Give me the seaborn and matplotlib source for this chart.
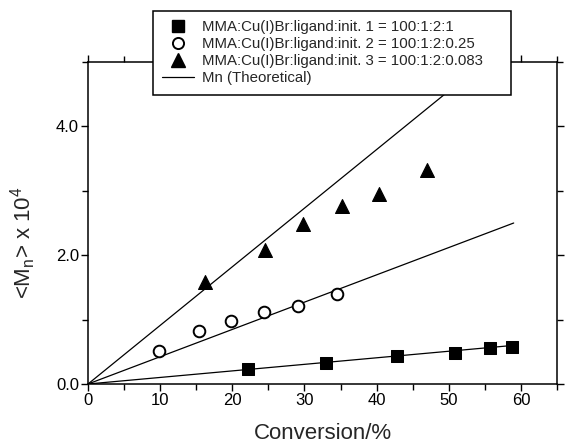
import numpy as np
import pandas as pd
import matplotlib
matplotlib.use("Agg")
import matplotlib.pyplot as plt
from matplotlib.ticker import MultipleLocator, FormatStrFormatter
from matplotlib.lines import Line2D
import seaborn as sns

# Data (conversion in %, <Mn> in units of 1e4)
sq_conv = [22.2, 33.0, 42.8, 50.8, 55.7, 58.8]
sq_mn = [0.23, 0.33, 0.43, 0.48, 0.56, 0.58]

circ_conv = [9.8, 15.4, 19.8, 24.4, 29.1, 34.5]
circ_mn = [0.51, 0.82, 0.98, 1.12, 1.21, 1.40]

tri_conv = [16.2, 24.5, 29.8, 35.2, 40.3, 47.0]
tri_mn = [1.58, 2.08, 2.48, 2.76, 2.95, 3.32]

# theoretical Mn lines (start / end points)
theo_conv = [0, 59]
theo_1 = [0, 0.60]
theo_2 = [0, 2.50]
theo_3 = [0, 5.37]

labels = [
    "MMA:Cu(I)Br:ligand:init. 1 = 100:1:2:1",
    "MMA:Cu(I)Br:ligand:init. 2 = 100:1:2:0.25",
    "MMA:Cu(I)Br:ligand:init. 3 = 100:1:2:0.083",
    "Mn (Theoretical)",
]

sns.set_theme(style="ticks")
plt.rcParams.update({
    "font.family": ["Liberation Sans", "DejaVu Sans"],
    "mathtext.fontset": "custom",
    "mathtext.rm": "Liberation Sans",
    "mathtext.it": "Liberation Sans:italic",
    "axes.edgecolor": "black",
    "axes.linewidth": 1.1,
    "xtick.color": "black",
    "ytick.color": "black",
    "xtick.direction": "out",
    "ytick.direction": "out",
})

fig = plt.figure(figsize=(5.65, 4.43), dpi=100)
ax = fig.add_axes([0.1558, 0.1332, 0.83, 0.7268])

for ys in (theo_1, theo_2, theo_3):
    sns.lineplot(x=theo_conv, y=ys, color="black", lw=0.9, ax=ax, legend=False)

sns.scatterplot(x=sq_conv, y=sq_mn, marker="s", s=85, color="black",
                edgecolor="black", ax=ax, legend=False, zorder=3)
sns.scatterplot(x=circ_conv, y=circ_mn, marker="o", s=70, facecolor="white",
                edgecolor="black", linewidth=1.4, ax=ax, legend=False, zorder=3)
sns.scatterplot(x=tri_conv, y=tri_mn, marker="^", s=100, color="black",
                edgecolor="black", ax=ax, legend=False, zorder=3)

ax.set_xlim(0, 65)
ax.set_ylim(0, 5)
ax.xaxis.set_major_locator(MultipleLocator(10))
ax.xaxis.set_minor_locator(MultipleLocator(5))
ax.yaxis.set_major_locator(MultipleLocator(2))
ax.yaxis.set_minor_locator(MultipleLocator(1))
ax.yaxis.set_major_formatter(FormatStrFormatter("%.1f"))
ax.tick_params(which="both", top=True, right=True, labeltop=False, labelright=False,
               width=1.0, labelsize=12, pad=1.5)
ax.tick_params(which="major", length=5)
ax.tick_params(which="minor", length=4)

ax.set_xlabel("Conversion/%", fontsize=16)
ax.set_ylabel(r"<M$_\mathrm{n}$> x 10$^4$", fontsize=16)
ax.xaxis.set_label_coords(0.5, -0.122)
ax.yaxis.set_label_coords(-0.107, 0.44)

# legend
handles = [
    Line2D([], [], marker="s", ls="none", color="black", markersize=9),
    Line2D([], [], marker="o", ls="none", markerfacecolor="white",
           markeredgecolor="black", markeredgewidth=1.4, markersize=8),
    Line2D([], [], marker="^", ls="none", color="black", markersize=10),
    Line2D([], [], color="black", lw=0.9),
]
leg = ax.legend(handles, labels, loc="upper left",
                bbox_to_anchor=(0.2708, 0.7765, 0.6336, 0.1986),
                bbox_transform=fig.transFigure, mode="expand",
                borderaxespad=0, fontsize=10.8, frameon=True, fancybox=False,
                labelspacing=0.2, borderpad=0.63, handlelength=2.1,
                handletextpad=0.53)
leg.get_frame().set_edgecolor("black")
leg.get_frame().set_linewidth(1.1)
leg.get_frame().set_alpha(1)
leg.set_zorder(10)

fig.savefig("out.png", dpi=100)
